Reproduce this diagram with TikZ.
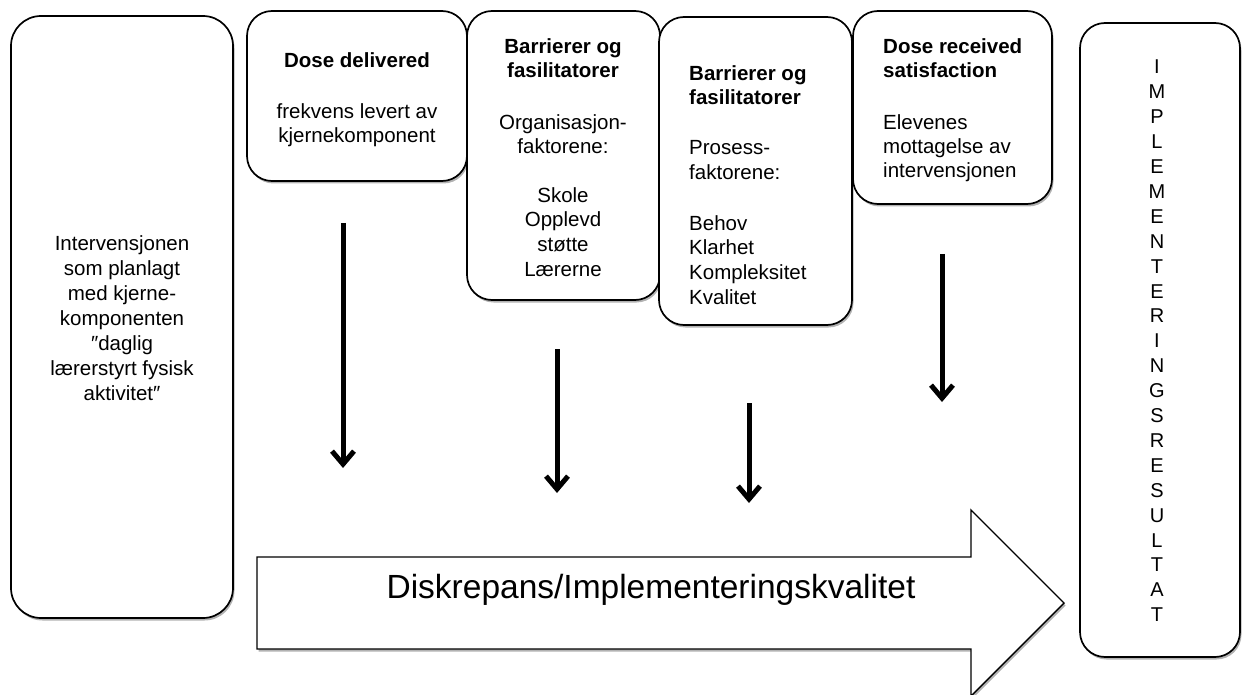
\documentclass[tikz,border=0pt]{standalone}
\usepackage{fontspec}
\setmainfont{Liberation Sans}
\usetikzlibrary{arrows.meta,shadows}

\tikzset{
  box/.style={draw, line width=1.7pt, fill=white, rounded corners=#1,
    anchor=north west, inner sep=0pt, outer sep=0pt,
    drop shadow={shadow xshift=1.5pt, shadow yshift=-2.5pt, opacity=0.3, fill=black}},
  txt/.style={inner sep=0pt, align=center, anchor=north, font=\fontsize{20.5}{24.7}\selectfont},
  txtl/.style={inner sep=0pt, align=left, anchor=north west, font=\fontsize{20.5}{24.7}\selectfont},
  head/.style={font=\fontsize{20.5}{24.7}\selectfont\bfseries},
  downarrow/.style={line width=5pt, -{Straight Barb[length=13pt, width=22pt, line width=5pt]}},
  bigarrow/.style={draw, line width=1.4pt, fill=white, line join=miter,
    drop shadow={shadow xshift=1.5pt, shadow yshift=-2.5pt, opacity=0.3, fill=black}}
}

\begin{document}
\begin{tikzpicture}[x=1pt, y=-1pt]
\useasboundingbox (0,0) rectangle (1245,695);

% Boxes
\node[box=30pt, minimum width=222pt, minimum height=602pt] (plan) at (11,16) {};
\node[box=25pt, minimum width=220pt, minimum height=170pt] (dose) at (247,11) {};
\node[box=25pt, minimum width=193pt, minimum height=289pt] (org) at (467,11) {};
\node[box=25pt, minimum width=193pt, minimum height=308pt] (proc) at (659,17) {};
\node[box=25pt, minimum width=199pt, minimum height=193pt] (recv) at (853,11) {};
\node[box=25pt, minimum width=160pt, minimum height=634pt] (result) at (1080,23) {};

% Texts in the boxes
\node[txt, font=\fontsize{20.5}{25}\selectfont] (planT) at (122,235) {Intervensjonen\\som planlagt\\med kjerne-\\komponenten\\″daglig\\lærerstyrt fysisk\\aktivitet″};

\node[txt, head] (doseH) at (357,52) {Dose delivered};
\node[txt, font=\fontsize{20.5}{24}\selectfont] (doseT) at (357,103) {frekvens levert av\\kjernekomponent};

\node[txt, head] (orgH) at (563,38) {Barrierer og\\fasilitatorer};
\node[txt] (orgT) at (563,114) {Organisasjon-\\faktorene:};
\node[txt] (orgL) at (563,187) {Skole\\Opplevd\\støtte\\Lærerne};

\node[txtl, head] (procH) at (689,65) {Barrierer og\\fasilitatorer};
\node[txtl] (procT) at (689,140) {Prosess-\\faktorene:};
\node[txtl] (procL) at (689,215) {Behov\\Klarhet\\Kompleksitet\\Kvalitet};

\node[txtl, head] (recvH) at (883,38) {Dose received\\satisfaction};
\node[txtl, font=\fontsize{20.5}{24}\selectfont] (recvT) at (883,114) {Elevenes\\mottagelse av\\intervensjonen};

\node[txt, font=\fontsize{20}{24.9}\selectfont] (resultT) at (1157,60)
  {I\\M\\P\\L\\E\\M\\E\\N\\T\\E\\R\\I\\N\\G\\S\\R\\E\\S\\U\\L\\T\\A\\T};

% Block arrow towards the result
\draw[bigarrow] (257,557) -- (971,557) -- (971,510) -- (1064,603)
  -- (971,696) -- (971,649) -- (257,649) -- cycle;
\node[inner sep=0pt, anchor=base, font=\fontsize{33.5}{40}\selectfont] (gap) at (651,598)
  {Diskrepans/Implementeringskvalitet};

% Downward arrows
\coordinate (a1s) at (343,223); \coordinate (a1e) at (343,468);
\coordinate (a2s) at (557,349); \coordinate (a2e) at (557,493);
\coordinate (a3s) at (749,403); \coordinate (a3e) at (749,503);
\coordinate (a4s) at (942,254); \coordinate (a4e) at (942,402);
\draw[downarrow] (a1s) -- (a1e);
\draw[downarrow] (a2s) -- (a2e);
\draw[downarrow] (a3s) -- (a3e);
\draw[downarrow] (a4s) -- (a4e);
\end{tikzpicture}
\end{document}
